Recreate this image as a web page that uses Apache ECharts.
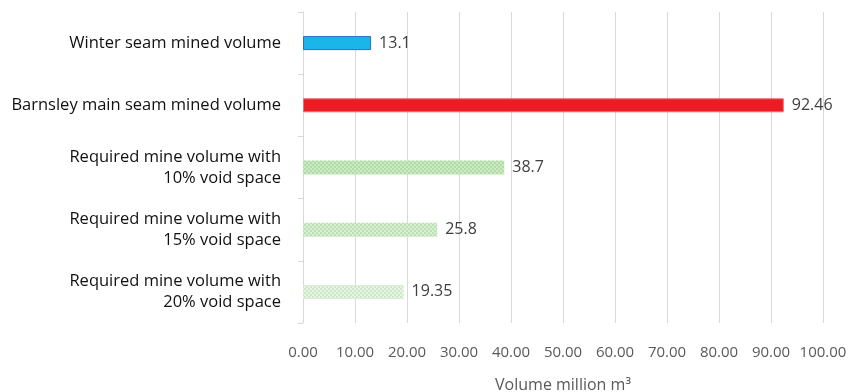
<!DOCTYPE html>
<html>
<head>
<meta charset="utf-8">
<script src="https://cdn.jsdelivr.net/npm/echarts@6/dist/echarts.min.js"></script>
<style>
  html, body { margin: 0; padding: 0; background: #fff; }
  #main { width: 853px; height: 392px; }
</style>
</head>
<body>
<div id="main"></div>
<script>
const categories = [
  'Winter seam mined volume',
  'Barnsley main seam mined volume',
  'Required mine volume with\n10% void space',
  'Required mine volume with\n15% void space',
  'Required mine volume with\n20% void space'
]
const values = [13.1, 92.46, 38.7, 25.8, 19.35]
const xTicks = [0, 10, 20, 30, 40, 50, 60, 70, 80, 90, 100]

// little dotted tiles for the green bars
function dots(bg, dot) {
  const c = document.createElement('canvas')
  c.width = 4; c.height = 4
  const g = c.getContext('2d')
  g.fillStyle = bg; g.fillRect(0, 0, 4, 4)
  g.fillStyle = dot
  g.fillRect(0, 0, 2, 2); g.fillRect(2, 2, 2, 2)
  return {image: c, repeat: 'repeat'}
}

const fills = [
  {color: '#1cb5ea', borderColor: '#2f6fb5', borderWidth: 1},
  {color: '#ec1c24', borderColor: '#f06a6e', borderWidth: 1},
  {color: dots('#cdeac6', '#b0dba6')},
  {color: dots('#d8efd3', '#bde1b5')},
  {color: dots('#e8f5e5', '#cde8c7')}
]

const myChart = echarts.init(document.getElementById('main'))

const option = {
  animation: false,
  grid: {left: 303, right: 30, top: 12, bottom: 69, outerBoundsMode: 'none'},
  xAxis: {
    type: 'value',
    min: xTicks[0], max: xTicks[xTicks.length - 1], interval: 10,
    axisLine: {show: false},
    axisTick: {show: false},
    splitLine: {lineStyle: {color: '#d9d9d9', width: 1}},
    axisLabel: {
      color: '#595959', fontFamily: 'Open Sans', fontSize: 15, margin: 22,
      formatter: v => v.toFixed(2)
    },
    name: 'Volume million m³',
    nameLocation: 'middle',
    nameGap: 54,
    nameTextStyle: {color: '#595959', fontFamily: 'Open Sans', fontSize: 16}
  },
  yAxis: {
    type: 'category',
    inverse: true,
    data: categories,
    axisLine: {lineStyle: {color: '#d9d9d9'}},
    axisTick: {show: true, length: 5, lineStyle: {color: '#d9d9d9'}},
    axisLabel: {
      color: '#111', fontFamily: 'Open Sans', fontSize: 16.5, margin: 22,
      lineHeight: 21, align: 'right'
    }
  },
  series: [{
    type: 'bar',
    barWidth: 14,
    data: values.map((v, i) => ({value: v, itemStyle: fills[i]})),
    label: {
      show: true, position: 'right', distance: 8,
      color: '#404040', fontFamily: 'Open Sans', fontSize: 16
    }
  }]
}

option && myChart.setOption(option)
</script>
</body>
</html>
